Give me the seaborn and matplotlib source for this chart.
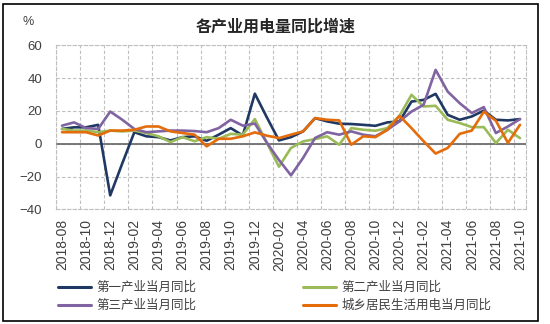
import numpy as np
import pandas as pd
import matplotlib
matplotlib.use("Agg")
import matplotlib.pyplot as plt
import seaborn as sns
from matplotlib.patches import Rectangle
from matplotlib.lines import Line2D

# Monthly year-on-year growth of electricity consumption by sector (%)
months = [
    "2018-08", "2018-09", "2018-10", "2018-11", "2018-12",
    "2019-01", "2019-02", "2019-03", "2019-04", "2019-05", "2019-06",
    "2019-07", "2019-08", "2019-09", "2019-10", "2019-11", "2019-12",
    "2020-01", "2020-02", "2020-03", "2020-04", "2020-05", "2020-06",
    "2020-07", "2020-08", "2020-09", "2020-10", "2020-11", "2020-12",
    "2021-01", "2021-02", "2021-03", "2021-04", "2021-05", "2021-06",
    "2021-07", "2021-08", "2021-09", "2021-10",
]
primary = [9, 10, 10, 11.5, -31.5, -12, 7, 4.5, 4, 2, 4, 4.5, 1.8, 5.5, 9.5,
           5, 30.5, 16, 2, 4, 7.5, 15.6, 13.6, 12.2, 12, 11.5, 10.9, 13, 13.6,
           25.7, 26.7, 30.4, 17.6, 14.6, 16.6, 20.2, 14.6, 14.2, 15]
secondary = [9, 8, 8, 7, 8, 7.5, 8, 6.5, 4.5, 1, 4, 1.5, 4, 3, 6, 5.5, 15,
             0.5, -14, -2.6, 1.4, 2.8, 4.5, -0.6, 9.5, 8.5, 7.9, 9.5, 17,
             29.8, 22.7, 23.1, 14.6, 12.6, 10.1, 10.1, 0.4, 8.5, 3.4]
tertiary = [11, 13, 9.5, 9, 19.6, 14.6, 9, 7, 7.5, 8, 8, 7.7, 7, 9.5, 14.6,
            11, 12.3, 0.6, -9.9, -19.3, -8.7, 3.5, 7, 5.5, 7.5, 5.5, 4.5, 8.5,
            13.6, 19.6, 23.7, 45, 31.8, 24.7, 18.7, 22.3, 6.5, 10.5, 15]
residential = [7, 7, 7, 5, 8, 8, 8.5, 10.5, 10.5, 7.5, 6.5, 5.5, -1.6, 3, 3,
               4.5, 6.9, 4.9, 3.4, 5.5, 7.5, 15.6, 14.6, 14.2, -0.6, 4.5, 4,
               8.5, 17, 9.5, 1.5, -6, -2.6, 6, 8, 19.5, 14, 0.5, 11.5]

series_names = ["第一产业当月同比", "第二产业当月同比", "第三产业当月同比", "城乡居民生活用电当月同比"]
colors = ["#203864", "#9BBB59", "#8064A2", "#E46C0A"]
y_ticks = [-40, -20, 0, 20, 40, 60]

wide = pd.DataFrame({
    "idx": np.arange(len(months)),
    series_names[0]: primary,
    series_names[1]: secondary,
    series_names[2]: tertiary,
    series_names[3]: residential,
})
long = wide.melt(id_vars="idx", var_name="series", value_name="value")

sns.set_theme(style="white")
plt.rcParams["font.family"] = ["Liberation Sans", "Noto Sans CJK SC"]
cjk = ["Noto Sans CJK SC", "DejaVu Sans"]

W, H = 550, 324
fig = plt.figure(figsize=(W / 100, H / 100), dpi=100)
fig.patch.set_facecolor("white")
left, right, top, bottom = 56, 526, 45.3, 209.3
ax = fig.add_axes([left / W, 1 - bottom / H, (right - left) / W, (bottom - top) / H])

grid_kw = dict(color="#BFBFBF", linestyle=(0, (3, 2)), linewidth=0.8)
ax.set_xlim(-0.5, len(months) - 0.5)
ax.set_ylim(-40, 60)
ax.set_yticks(y_ticks)
ax.set_xticks(np.arange(0, len(months), 2))
ax.set_xticklabels(months[::2], rotation=90)
ax.set_xticks(np.arange(-0.5, len(months), 2), minor=True)
ax.grid(axis="y", which="major", **grid_kw)
ax.grid(axis="x", which="minor", **grid_kw)
ax.grid(axis="x", which="major", visible=False)
for s in ax.spines.values():
    s.set_color("#BFBFBF")
    s.set_linestyle((0, (3, 2)))
    s.set_linewidth(0.8)
ax.axhline(0, color="#6E6E6E", linewidth=1.3, zorder=1.5)
ax.tick_params(axis="both", which="both", length=0, labelsize=9.5, labelcolor="#404040")
ax.tick_params(axis="x", labelsize=10, pad=7)
ax.tick_params(axis="y", pad=10)

sns.lineplot(data=long, x="idx", y="value", hue="series", hue_order=series_names,
             palette=colors, linewidth=1.9, ax=ax, legend=False, sort=False, zorder=3)
ax.set_xlabel("")
ax.set_ylabel("")

fig.text(276 / W, 1 - 27 / H, "各产业用电量同比增速", ha="center", va="center",
         fontsize=11.5, fontweight="bold", color="#262626", family=cjk)
fig.text(28 / W, 1 - 22 / H, "%", ha="center", va="center", fontsize=9, color="#404040")

handles = [Line2D([], [], color=c, linewidth=2.2) for c in colors]
leg_kw = dict(frameon=False, loc="upper left", bbox_transform=fig.transFigure,
              handlelength=2.6, handletextpad=0.45, labelspacing=0.4, borderpad=0,
              prop={"family": cjk, "size": 9}, labelcolor="#404040")
leg1 = fig.legend([handles[0], handles[2]], [series_names[0], series_names[2]],
                  bbox_to_anchor=(52 / W, 1 - 275 / H), **leg_kw)
leg2 = fig.legend([handles[1], handles[3]], [series_names[1], series_names[3]],
                  bbox_to_anchor=(297 / W, 1 - 275 / H), **leg_kw)

fig.patches.append(Rectangle((3 / W, 3 / H), 535 / W, 317.5 / H, transform=fig.transFigure,
                             fill=False, edgecolor="black", linewidth=1.2))

fig.savefig("out.png", dpi=100)
